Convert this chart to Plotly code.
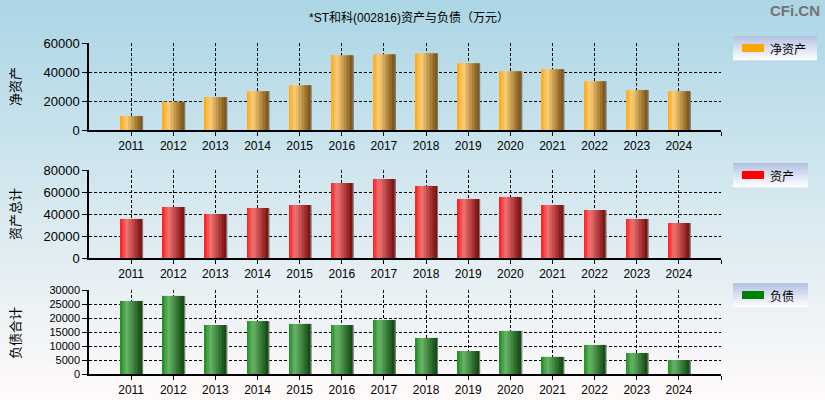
import plotly.graph_objects as go

# ---------------- data ----------------
years = [2011, 2012, 2013, 2014, 2015, 2016, 2017, 2018, 2019, 2020, 2021, 2022, 2023, 2024]
net_assets = [9600, 19500, 22700, 26800, 30900, 51500, 52200, 52900, 46000, 40500, 41900, 33700, 27500, 26800]
total_assets = [35500, 46400, 40000, 45500, 48200, 68200, 71800, 65500, 53600, 55500, 48200, 43600, 35500, 31800]
total_liab = [26100, 27900, 17500, 18900, 17900, 17500, 19300, 12900, 8200, 15400, 6100, 10400, 7500, 5000]

title_text = "*ST和科(002816)资产与负债（万元）"
ytitles = ["净资产", "资产总计", "负债合计"]
legend_names = ["净资产", "资产", "负债"]

W, H = 825, 400
FONT = "Liberation Sans, Arial, Noto Sans CJK SC, sans-serif"
CJK = "Noto Sans CJK SC, sans-serif"

def lerp(a, b, t):
    return tuple(round(a[i] + (b[i] - a[i]) * t) for i in range(3))

def grad3(c0, c1, c2, t, mid=0.3):
    if t <= mid:
        return lerp(c0, c1, t / mid)
    return lerp(c1, c2, (t - mid) / (1 - mid))

def rgb(c):
    return "rgb(%d,%d,%d)" % c

fig = go.Figure()

panels = [
    (net_assets, 60000, 20000, ((255, 168, 20), (250, 205, 120), (125, 85, 20)), "#FFA500"),
    (total_assets, 80000, 20000, ((255, 25, 25), (240, 115, 115), (125, 15, 15)), "#FF0000"),
    (total_liab, 30000, 5000, ((30, 140, 30), (105, 180, 105), (15, 75, 15)), "#008000"),
]

x0px, x1px = 89, 721
panel_px = [(43, 130), (170, 258), (290, 374)]
label_y = [87, 214, 333]
legend_box = [(36, 60), (163, 187), (283, 307)]

N = 14
bw = 0.5
DASH = "3px,2px"
for p, (vals, ymax, dt, cols, sw) in enumerate(panels):
    xa = "x" if p == 0 else "x%d" % (p + 1)
    ya = "y" if p == 0 else "y%d" % (p + 1)
    fig.add_trace(go.Bar(x=years, y=vals, xaxis=xa, yaxis=ya, width=0.045, offset=bw / 2 - 0.01,
                         marker=dict(color="rgb(120,120,120)", line=dict(width=0)),
                         showlegend=False, hoverinfo="skip"))
    for i in range(N):
        t = (i + 0.5) / N
        fig.add_trace(go.Bar(x=years, y=vals, xaxis=xa, yaxis=ya,
                             width=bw / N + 0.003, offset=-bw / 2 + i * bw / N,
                             marker=dict(color=rgb(grad3(*cols, t)), line=dict(width=0)),
                             showlegend=False, hoverinfo="x+y" if i == 0 else "skip"))
    top, bot = panel_px[p]
    xd = [x0px / W, x1px / W]
    yd = [1 - bot / H, 1 - top / H]
    xkey = "xaxis" if p == 0 else "xaxis%d" % (p + 1)
    ykey = "yaxis" if p == 0 else "yaxis%d" % (p + 1)
    fig.layout[xkey] = dict(domain=xd, anchor=ya, range=[2010, 2025], automargin=False,
                            tickvals=years + [2025], ticktext=[str(y) for y in years] + [""],
                            ticks="outside", ticklen=4, tickcolor="black",
                            showline=True, linecolor="black", linewidth=1.5,
                            showgrid=True, gridcolor="black", griddash=DASH, gridwidth=1,
                            zeroline=False, tickfont=dict(family=FONT, size=12, color="black"))
    fig.layout[ykey] = dict(domain=yd, anchor=xa, range=[0, ymax], dtick=dt, tick0=0,
                            tickformat="d", automargin=False,
                            ticks="outside", ticklen=5, tickcolor="black",
                            showline=True, linecolor="black", linewidth=1.5,
                            showgrid=True, gridcolor="black", griddash=DASH, gridwidth=1,
                            zeroline=False,
                            tickfont=dict(family=FONT, size=13 if p < 2 else 11, color="black"))
    fig.add_annotation(x=14 / W, y=1 - label_y[p] / H, xref="paper", yref="paper",
                       text=ytitles[p], textangle=-90, showarrow=False,
                       xanchor="center", yanchor="middle",
                       font=dict(family=CJK, size=13, color="black"))

shapes = []
S = 80
for k in range(S):
    t = k / (S - 1)
    c = lerp((172, 214, 229), (255, 250, 250), t)
    shapes.append(dict(type="rect", xref="paper", yref="paper", x0=0, x1=1,
                       y1=1 - k / S + 0.002, y0=1 - (k + 1) / S - 0.002,
                       fillcolor=rgb(c), line=dict(width=0), layer="below"))

for p, (lt, lb) in enumerate(legend_box):
    lx0, lx1 = 733, 817 if p == 0 else 808
    M = 12
    for k in range(M):
        t = k / (M - 1)
        c = lerp((182, 196, 226), (252, 252, 255), t)
        ya0 = lt + (lb - lt) * k / M
        ya1 = lt + (lb - lt) * (k + 1) / M
        shapes.append(dict(type="rect", xref="paper", yref="paper",
                           x0=lx0 / W, x1=lx1 / W, y0=1 - (ya1 + 0.3) / H, y1=1 - ya0 / H,
                           fillcolor=rgb(c), line=dict(width=0), layer="above"))
    cy = (lt + lb) / 2
    shapes.append(dict(type="rect", xref="paper", yref="paper",
                       x0=742 / W, x1=764 / W, y0=1 - (cy + 4) / H, y1=1 - (cy - 4) / H,
                       fillcolor=panels[p][4], line=dict(width=0), layer="above"))
    fig.add_annotation(x=768 / W, y=1 - cy / H, xref="paper", yref="paper",
                       text=legend_names[p], showarrow=False, xanchor="left", yanchor="middle",
                       font=dict(family=CJK, size=12, color="black"))

fig.add_annotation(x=409 / W, y=1 - 18 / H, xref="paper", yref="paper", text=title_text,
                   showarrow=False, xanchor="center", yanchor="middle",
                   font=dict(family="Liberation Sans, Noto Sans CJK SC, sans-serif", size=12, color="black"))
fig.add_annotation(x=822 / W, y=1 - 10 / H, xref="paper", yref="paper", text="<b>CFi.CN</b>",
                   showarrow=False, xanchor="right", yanchor="middle",
                   font=dict(family="Liberation Sans, Arial, sans-serif", size=15, color="rgb(115,115,115)"))

fig.update_layout(width=W, height=H, margin=dict(l=0, r=0, t=0, b=0, autoexpand=False),
                  paper_bgcolor="rgba(0,0,0,0)", plot_bgcolor="rgba(0,0,0,0)",
                  barmode="overlay", showlegend=False, shapes=shapes)

fig.write_html("out.html", config={"displayModeBar": False},
               post_script="document.body.style.margin='0';document.body.style.background='white';")
